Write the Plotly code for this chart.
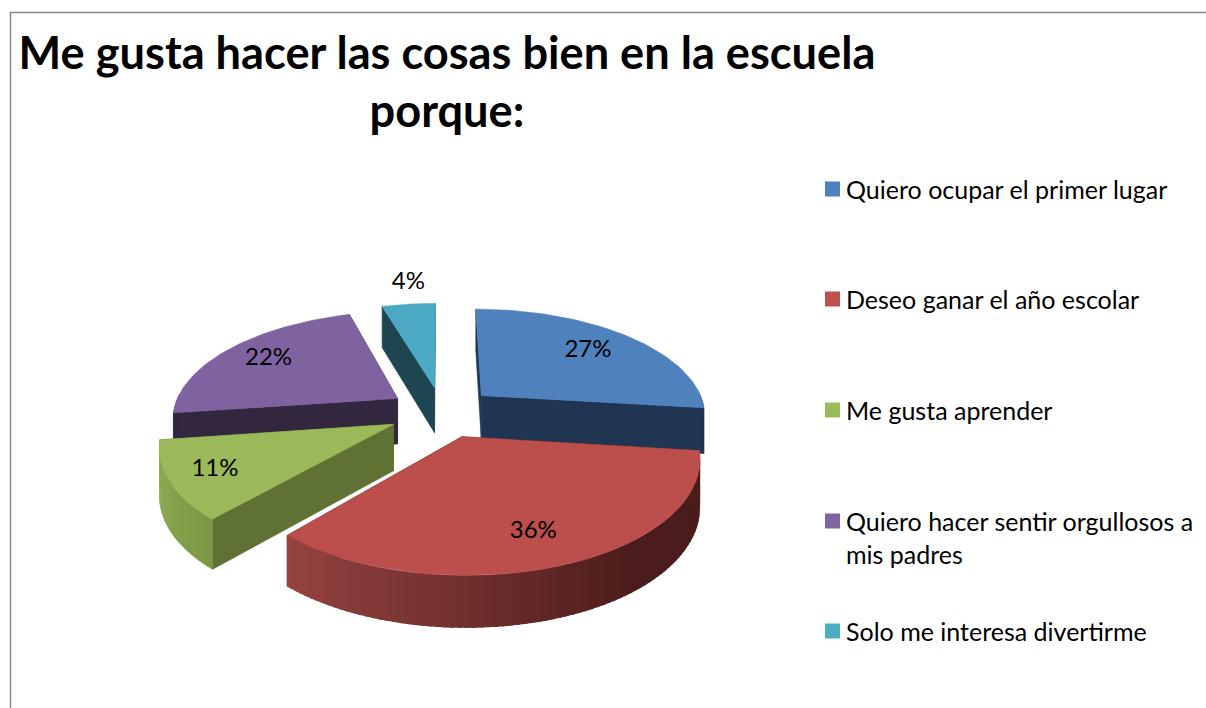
import numpy as np
import plotly.graph_objects as go

categories = ["Quiero ocupar el primer lugar", "Deseo ganar el año escolar", "Me gusta aprender",
              "Quiero hacer sentir orgullosos a<br>mis padres", "Solo me interesa divertirme"]
# printed on the slices
percent_labels = ["27%", "36%", "11%", "22%", "4%"]
# sweep of each slice as it is drawn in the picture, in percent of the turn
drawn_share = [26.9, 34.6, 11.3, 22.6, 4.6]

top_colors = ["#4F81BD", "#BC4E4B", "#9BB958", "#7F62A0", "#4BA9C4"]
legend_colors = ["#4F81BD", "#C0504D", "#9BBB59", "#8064A2", "#4BACC6"]
wall_colors = ["#1F3552", "#4A1C1B", "#5F7233", "#33263F", "#1E4650"]
# rim shading at the start and the end of each slice's arc
rim_colors = [("#1F3552", "#1F3552"), ("#4A1C1B", "#984441"), ("#7C9845", "#93B054"),
              ("#33263F", "#33263F"), ("#1E4650", "#1E4650")]
label_radius = [0.72, 0.77, 0.81, 0.76, 1.30]
label_turn = [0, 1.5, 0, 0, 1.5]

# look of the tilted pie
CX, CY = 442, 412
SCALE_X, SCALE_Y, PERSP = 225, 106, 0.168
DEPTH = 46
EXPLODE = 0.24

LEGEND_ROWS = [189, 299, 410, 521, 631]
LEGEND_TEXT_ROWS = [189, 299, 410, 537, 631]


def project(x, y, z=0.0):
    w = 1 + PERSP * y
    return CX + SCALE_X * x / w, CY - SCALE_Y * y / w + DEPTH * z / (1 + 0.1 * y)


def polar(theta, r, mid):
    # clockwise from twelve o'clock, pulled out along the slice's middle angle
    return EXPLODE * np.sin(mid) + r * np.sin(theta), EXPLODE * np.cos(mid) + r * np.cos(theta)


def mix(c1, c2, t):
    a = [int(c1[i:i + 2], 16) for i in (1, 3, 5)]
    b = [int(c2[i:i + 2], 16) for i in (1, 3, 5)]
    return "rgb(%d,%d,%d)" % tuple(p + (q - p) * t for p, q in zip(a, b))


def poly(fig, xs, ys, color, edge=0.6):
    fig.add_trace(go.Scatter(x=xs, y=ys, mode="lines", fill="toself", fillcolor=color,
                             line=dict(color=color, width=edge), hoverinfo="skip", showlegend=False))


def wall(fig, p, q, color, edge=0.6):
    x1, y1 = project(*p, 0)
    x2, y2 = project(*q, 0)
    x3, y3 = project(*q, 1)
    x4, y4 = project(*p, 1)
    poly(fig, [x1, x2, x3, x4, x1], [y1, y2, y3, y4, y1], color, edge)


fig = go.Figure()

edges = np.cumsum([0] + drawn_share) / sum(drawn_share) * 2 * np.pi
for i in [4, 0, 3, 2, 1]:
    a0, a1 = edges[i], edges[i + 1]
    mid = (a0 + a1) / 2
    apex = polar(0, 0, mid)
    # radial walls, the one further back first
    ends = sorted([a0, a1], key=lambda a: -np.cos(a))
    for a in ends:
        wall(fig, apex, polar(a, 1, mid), wall_colors[i])
    # outer rim, only the part turned to the viewer; strips overlap so no seams show
    steps = max(int((a1 - a0) / np.radians(1.5)), 1)
    th = np.linspace(a0, a1, steps + 1)
    for k in range(steps):
        if np.cos((th[k] + th[k + 1]) / 2) < 0.05:
            t = (k + 0.5) / steps
            if i == 1:  # red rim stays dark on the right, then lightens to the left
                t = max(0.0, (t - 0.35) / 0.65)
            wall(fig, polar(th[k], 1, mid), polar(min(th[k + 1] + np.radians(1), a1), 1, mid),
                 mix(rim_colors[i][0], rim_colors[i][1], t), edge=0)
    # top face
    arc = np.linspace(a0, a1, 60)
    px, py = polar(arc, 1, mid)
    sx, sy = project(np.r_[apex[0], px, apex[0]], np.r_[apex[1], py, apex[1]])
    poly(fig, sx, sy, top_colors[i])

lx, ly = [], []
for i in range(5):
    mid = (edges[i] + edges[i + 1]) / 2
    x, y = project(*polar(mid + np.radians(label_turn[i]), label_radius[i], mid))
    lx.append(x)
    ly.append(y)
fig.add_trace(go.Scatter(x=lx, y=ly, mode="text", text=percent_labels,
                         textfont=dict(family="Lato", size=24, color="black"),
                         hoverinfo="skip", showlegend=False))

# key on the right, placed by hand: its rows are unevenly spaced and the marker sits on the first line
for name, color, row in zip(categories, legend_colors, LEGEND_ROWS):
    fig.add_trace(go.Scatter(x=[832.5], y=[row], mode="markers", name=name, hoverinfo="name",
                             marker=dict(symbol="square", size=15, color=color), showlegend=False))
for name, row in zip(categories, LEGEND_TEXT_ROWS):
    fig.add_annotation(x=847, y=row, xref="x", yref="y", text=name, showarrow=False,
                       xanchor="left", yanchor="middle", align="left", xshift=-3,
                       font=dict(family="Lato", size=25, color="black"))

fig.update_layout(
    width=1206, height=708,
    margin=dict(l=0, r=0, t=0, b=0),
    paper_bgcolor="white", plot_bgcolor="white",
    showlegend=False,
    title=dict(text="<b>Me gusta hacer las cosas bien en la escuela<br>porque:</b>",
               x=447 / 1206, xanchor="center", y=0.903, yanchor="middle",
               font=dict(family="Lato", size=45.2, color="black")),
    xaxis=dict(visible=False, range=[0, 1206], fixedrange=True),
    yaxis=dict(visible=False, range=[708, 0], fixedrange=True),
    shapes=[
        dict(type="line", xref="x", yref="y", x0=10, x1=1206, y0=12.5, y1=12.5, line=dict(color="#868686", width=1.5)),
        dict(type="line", xref="x", yref="y", x0=10.5, x1=10.5, y0=12, y1=708, line=dict(color="#868686", width=1.5)),
    ],
)

fig.write_html("out.html", config=dict(displayModeBar=False),
               post_script="document.body.style.margin='0';document.body.style.overflow='hidden';")
